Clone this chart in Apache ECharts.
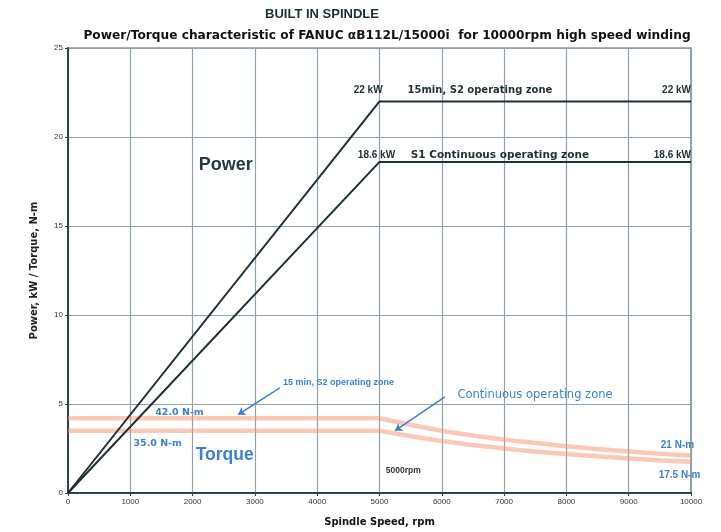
<!DOCTYPE html>
<html>
<head>
<meta charset="utf-8">
<script src="https://cdn.jsdelivr.net/npm/echarts@6/dist/echarts.min.js"></script>
<style>html,body{margin:0;padding:0;background:#fff}#c{width:721px;height:532px}</style>
</head>
<body>
<div id="c"></div>
<script>
// ---- data ----
const xTicks = [0, 1000, 2000, 3000, 4000, 5000, 6000, 7000, 8000, 9000, 10000];
const yTicks = [0, 5, 10, 15, 20, 25];
const powerSpeed = [0, 5000, 10000];
const powerS2 = [0, 22, 22];      // kW, 15 min S2
const powerS1 = [0, 18.6, 18.6];  // kW, S1 continuous
const torqueFlatSpeed = [0, 5000];
const torqueFlatS2 = [42, 42];    // N-m, constant torque region
const torqueFlatS1 = [35, 35];
const torqueCurveSpeed = [5000, 6000, 7000, 8000, 9000, 10000];
const torqueCurveS2 = [42, 35, 30, 26.3, 23.3, 21];     // N-m
const torqueCurveS1 = [35, 29.2, 25, 21.9, 19.4, 17.5]; // N-m

const pairs = (xs, ys) => xs.map((x, i) => [x, ys[i]]);
const BLUE = '#3b7fd6';
const DARK = '#1f2f33';
const FONT = 'Liberation Sans, Arial, sans-serif';
const WIDE = 'DejaVu Sans, sans-serif';
const TQ = {color: 'rgba(245,150,115,0.5)', width: 4.5};

const chart = echarts.init(document.getElementById('c'), null, {renderer: 'canvas'});

const torqueSeries = (name, xs, ys, smooth) => ({
  name, type: 'line', yAxisIndex: 1, data: pairs(xs, ys), smooth,
  symbol: 'none', lineStyle: TQ, z: 2
});

const option = {
  backgroundColor: '#fff',
  animation: false,
  grid: {left: 68, right: 30, top: 48, bottom: 38, show: true, borderColor: '#4a6470', borderWidth: 1.2},
  xAxis: {
    type: 'value', min: 0, max: 10000, interval: 1000,
    name: 'Spindle Speed, rpm', nameLocation: 'middle', nameGap: 24,
    nameTextStyle: {fontFamily: WIDE, fontSize: 10, fontWeight: 'bold', color: '#111'},
    axisLine: {show: true, lineStyle: {color: '#26434e', width: 2}},
    axisTick: {show: true, length: 3, lineStyle: {color: '#26434e'}},
    axisLabel: {fontFamily: FONT, fontSize: 8, color: '#333', margin: 5,
      formatter: v => xTicks.includes(v) ? String(v) : ''},
    splitLine: {show: true, lineStyle: {color: '#8ea2ab', width: 1.2}}
  },
  yAxis: [{
    type: 'value', min: 0, max: 25, interval: 5,
    name: 'Power, kW / Torque, N-m', nameLocation: 'middle', nameGap: 29,
    nameTextStyle: {fontFamily: WIDE, fontSize: 10, fontWeight: 'bold', color: '#222'},
    axisLine: {show: true, lineStyle: {color: '#26434e', width: 2}},
    axisTick: {show: true, length: 3, lineStyle: {color: '#26434e'}},
    axisLabel: {fontFamily: FONT, fontSize: 8, color: '#333', margin: 5,
      formatter: v => yTicks.includes(v) ? String(v) : ''},
    splitLine: {show: true, lineStyle: {color: '#8ea2ab', width: 1.2}}
  }, {
    type: 'value', min: 0, max: 250, show: false, splitLine: {show: false}
  }],
  series: [
    torqueSeries('Torque S2 flat', torqueFlatSpeed, torqueFlatS2, false),
    torqueSeries('Torque S1 flat', torqueFlatSpeed, torqueFlatS1, false),
    torqueSeries('Torque S2', torqueCurveSpeed, torqueCurveS2, 0.4),
    torqueSeries('Torque S1', torqueCurveSpeed, torqueCurveS1, 0.4),
    {name: 'Power S2', type: 'line', data: pairs(powerSpeed, powerS2), symbol: 'none',
      lineStyle: {color: DARK, width: 2}, z: 5,
      markLine: {silent: true, symbol: ['none', 'arrow'], symbolSize: 7, label: {show: false},
        lineStyle: {color: BLUE, width: 1.5, type: 'solid'},
        data: [
          [{coord: [3400, 5.9]}, {coord: [2730, 4.4]}],
          [{coord: [6050, 5.4]}, {coord: [5250, 3.5]}]
        ]}},
    {name: 'Power S1', type: 'line', data: pairs(powerSpeed, powerS1), symbol: 'none',
      lineStyle: {color: DARK, width: 2}, z: 5}
  ]
};
chart.setOption(option);

// annotations placed in data coordinates: [rpm, value, text, align, size, weight, color, family]
const notes = [
  [5050, 22.6, '22 kW', 'right', 10, 'bold', DARK, FONT],
  [5450, 22.6, '15min, S2 operating zone', 'left', 10, 'bold', DARK, WIDE],
  [10000, 22.6, '22 kW', 'right', 10, 'bold', DARK, FONT],
  [5250, 19.0, '18.6 kW', 'right', 10, 'bold', DARK, FONT],
  [5500, 19.0, 'S1 Continuous operating zone', 'left', 10.5, 'bold', DARK, WIDE],
  [10000, 19.0, '18.6 kW', 'right', 10, 'bold', DARK, FONT],
  [2100, 18.4, 'Power', 'left', 18, 'bold', '#26393d', FONT],
  [2050, 2.1, 'Torque', 'left', 17.5, 'bold', BLUE, FONT],
  [1400, 4.5, '42.0 N-m', 'left', 9.5, 'bold', BLUE, WIDE],
  [1050, 2.8, '35.0 N-m', 'left', 9.5, 'bold', BLUE, WIDE],
  [3450, 6.2, '15 min, S2 operating zone', 'left', 9, 'bold', BLUE, FONT],
  [6250, 5.5, 'Continuous operating zone', 'left', 11.5, 'normal', BLUE, WIDE],
  [5100, 1.25, '5000rpm', 'left', 8.5, 'bold', '#333', FONT],
  [10050, 2.7, '21 N-m', 'right', 10, 'bold', BLUE, FONT],
  [10150, 1.0, '17.5 N-m', 'right', 10, 'bold', BLUE, FONT]
];

const graphics = [];
graphics.push({type: 'text', x: 322, y: 14, style: {text: 'BUILT IN SPINDLE',
  fontFamily: FONT, fontSize: 13, fontWeight: 'bold', fill: '#1d2f35', align: 'center', verticalAlign: 'middle'}});
graphics.push({type: 'text', x: 387, y: 36, style: {
  text: 'Power/Torque characteristic of FANUC \u03b1B112L/15000i  for 10000rpm high speed winding',
  fontFamily: WIDE, fontSize: 12.2, fontWeight: 'bold', fill: '#111', align: 'center', verticalAlign: 'middle'}});

notes.forEach(n => {
  const p = chart.convertToPixel({gridIndex: 0}, [n[0], n[1]]);
  graphics.push({type: 'text', x: p[0], y: p[1], z: 10, style: {
    text: n[2], fontFamily: n[7], fontSize: n[4], fontWeight: n[5], fill: n[6],
    align: n[3], verticalAlign: 'middle'}});
});
chart.setOption({graphic: graphics});
</script>
</body>
</html>
